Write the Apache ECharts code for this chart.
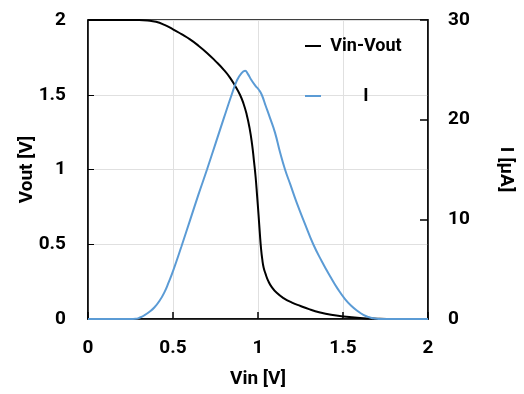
<!DOCTYPE html>
<html>
<head>
<meta charset="utf-8">
<script src="https://cdn.jsdelivr.net/npm/echarts@6/dist/echarts.min.js"></script>
<style>
  html, body { margin: 0; padding: 0; background: #fff; }
  #chart { width: 524px; height: 394px; }
</style>
</head>
<body>
<div id="chart"></div>
<script>
// Vin-Vout transfer curve (left axis, V)
const vinVout = [0, 0.3, 0.35, 0.4, 0.45, 0.5, 0.55, 0.6, 0.65, 0.7, 0.75, 0.8, 0.835, 0.865, 0.894, 0.915,
  0.933, 0.95, 0.965, 0.976, 0.986, 0.995, 1.003, 1.011, 1.018, 1.025, 1.033, 1.045, 1.06, 1.08, 1.11, 1.15,
  1.2, 1.25, 1.3, 1.365, 1.43, 1.5, 1.6, 1.7, 1.8, 2]
const vout = [2, 2, 1.997, 1.988, 1.967, 1.938, 1.905, 1.87, 1.828, 1.78, 1.725, 1.665, 1.615, 1.56, 1.5, 1.44,
  1.37, 1.28, 1.17, 1.06, 0.95, 0.82, 0.7, 0.57, 0.47, 0.4, 0.345, 0.3, 0.255, 0.215, 0.175, 0.14,
  0.11, 0.087, 0.066, 0.044, 0.028, 0.017, 0.007, 0.002, 0, 0]

// supply current (right axis, µA)
const vinI = [0, 0.25, 0.28, 0.306, 0.33, 0.36, 0.39, 0.42, 0.45, 0.475, 0.5, 0.55, 0.6, 0.65, 0.7, 0.75, 0.8,
  0.845, 0.875, 0.9, 0.924, 0.94, 0.96, 0.985, 1.005, 1.022, 1.045, 1.07, 1.1, 1.13, 1.159, 1.19, 1.227,
  1.275, 1.325, 1.375, 1.424, 1.47, 1.512, 1.55, 1.59, 1.62, 1.65, 1.68, 1.71, 1.75, 2]
const current = [0, 0, 0.02, 0.15, 0.35, 0.7, 1.15, 1.8, 2.7, 3.7, 4.8, 7.3, 9.9, 12.5, 15.0, 17.6, 20.2,
  22.5, 23.9, 24.6, 24.9, 24.6, 24.0, 23.4, 23.0, 22.5, 21.4, 20.2, 18.7, 16.7, 15.0, 13.5, 11.7,
  9.6, 7.5, 5.8, 4.3, 3.0, 2.0, 1.3, 0.75, 0.42, 0.2, 0.07, 0.01, 0, 0]

const font = 'Roboto'
const labelStyle = { color: '#000', fontFamily: font, fontWeight: 'bold', fontSize: 19 }

const chart = echarts.init(document.getElementById('chart'))
chart.setOption({
  animation: false,
  grid: { left: 88, right: 96, top: 20, bottom: 74, show: true, borderColor: '#000', borderWidth: 1.5 },
  legend: {
    orient: 'vertical',
    left: 300,
    top: 32,
    itemGap: 32,
    itemWidth: 16,
    itemHeight: 2,
    icon: 'rect',
    formatter: '{a|{name}}',
    textStyle: {
      rich: { a: { width: 80, align: 'center', color: '#000', fontFamily: font, fontWeight: 'bold', fontSize: 18 } },
    },
    data: ['Vin-Vout', 'I'],
  },
  xAxis: {
    type: 'value',
    min: 0,
    max: 2,
    interval: 0.5,
    name: 'Vin [V]',
    nameLocation: 'middle',
    nameGap: 51,
    nameTextStyle: labelStyle,
    axisLine: { lineStyle: { color: '#000', width: 1.5 } },
    axisTick: { inside: true, length: 7, lineStyle: { color: '#000', width: 1.5 } },
    axisLabel: { ...labelStyle, margin: 20 },
    splitLine: { lineStyle: { color: '#e0e0e0' } },
  },
  yAxis: [
    {
      type: 'value',
      min: 0,
      max: 2,
      interval: 0.5,
      name: 'Vout [V]',
      nameLocation: 'middle',
      nameGap: 51,
      nameMoveOverlap: false,
      nameTextStyle: labelStyle,
      axisLine: { show: true, lineStyle: { color: '#000', width: 1.5 } },
      axisTick: { show: true, inside: true, length: 6, lineStyle: { color: '#000', width: 1 } },
      axisLabel: { ...labelStyle, margin: 22 },
      splitLine: { lineStyle: { color: '#e0e0e0' } },
    },
    {
      type: 'value',
      min: 0,
      max: 30,
      interval: 10,
      name: 'I [µA]',
      nameLocation: 'middle',
      nameGap: 68,
      nameRotate: -90,
      nameTextStyle: labelStyle,
      position: 'right',
      axisLine: { show: true, lineStyle: { color: '#000', width: 1.5 } },
      axisTick: { show: true, inside: true, length: 8, lineStyle: { color: '#000', width: 1.5 } },
      axisLabel: { ...labelStyle, margin: 20 },
      splitLine: { show: false },
    },
  ],
  series: [
    {
      name: 'Vin-Vout',
      type: 'line',
      yAxisIndex: 0,
      smooth: 0.5,
      showSymbol: false,
      color: '#000',
      lineStyle: { color: '#000', width: 2 },
      data: vinVout.map((x, i) => [x, vout[i]]),
    },
    {
      name: 'I',
      type: 'line',
      yAxisIndex: 1,
      smooth: 0.5,
      showSymbol: false,
      color: '#5b9bd5',
      lineStyle: { color: '#5b9bd5', width: 2 },
      data: vinI.map((x, i) => [x, current[i]]),
    },
  ],
})
</script>
</body>
</html>
